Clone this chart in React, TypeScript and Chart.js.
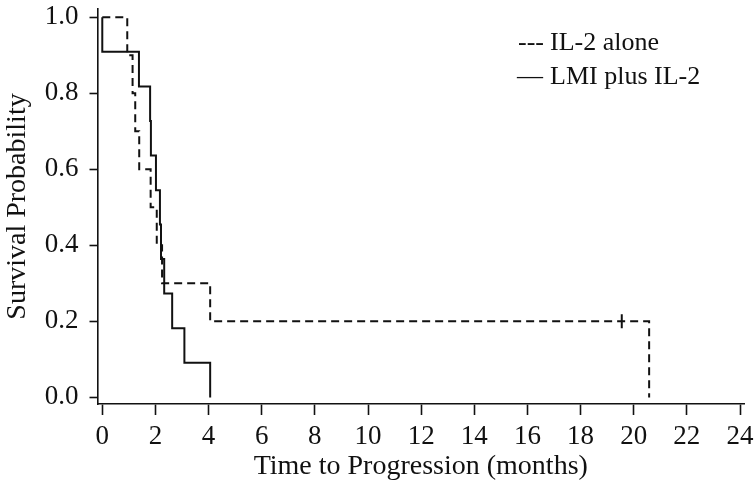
import React, { useEffect, useRef } from "react";
import { Chart, registerables } from "chart.js";

Chart.register(...registerables);

// Kaplan–Meier step points (time in months, survival probability after the event)
const il2Times = [0, 0.94, 1.14, 1.24, 1.39, 1.82, 2.05, 2.25, 4.06, 20.58];
const il2Surv = [1.0, 0.9, 0.8, 0.7, 0.6, 0.5, 0.4, 0.3, 0.2, 0.0];
const lmiTimes = [0, 0, 1.38, 1.8, 1.83, 2.02, 2.17, 2.21, 2.33, 2.63, 3.09, 4.06];
const lmiSurv = [1.0, 0.909, 0.818, 0.727, 0.636, 0.545, 0.455, 0.364, 0.273, 0.182, 0.091, 0.0];
const censorTimes = [19.55];
const censorSurv = [0.2];

const seriesNames = ["IL-2 alone", "LMI plus IL-2"];
const legendMarks = ["---", "\u2014"];
const xTickValues = [0, 2, 4, 6, 8, 10, 12, 14, 16, 18, 20, 22, 24];
const xTickLabels = ["0", "2", "4", "6", "8", "10", "12", "14", "16", "18", "20", "22", "24"];
const yTickValues = [0, 0.2, 0.4, 0.6, 0.8, 1.0];
const yTickLabels = ["0.0", "0.2", "0.4", "0.6", "0.8", "1.0"];
const xTitle = "Time to Progression (months)";
const yTitle = "Survival Probability";

const FONT = '"Liberation Serif", "Times New Roman", serif';

export default function App() {
  const ref = useRef<HTMLCanvasElement | null>(null);

  useEffect(() => {
    document.body.style.margin = "0";
    const canvas = ref.current;
    if (!canvas) return;

    const legendPlugin = {
      id: "textLegend",
      afterDraw(chart: any) {
        const ctx = chart.ctx;
        ctx.save();
        ctx.fillStyle = "#111";
        ctx.font = `26px ${FONT}`;
        ctx.textBaseline = "alphabetic";
        ctx.textAlign = "left";
        const rows = [50, 84];
        const markX = [518, 517];
        for (let i = 0; i < seriesNames.length; i++) {
          ctx.fillText(legendMarks[i], markX[i], rows[i]);
          ctx.fillText(seriesNames[i], 550, rows[i]);
        }
        ctx.restore();
      },
    };

    const chart = new Chart(canvas, {
      type: "line",
      data: {
        datasets: [
          {
            label: seriesNames[0],
            data: il2Times.map((t, i) => ({ x: t, y: il2Surv[i] })),
            stepped: "before",
            borderColor: "#111",
            borderWidth: 2,
            borderDash: [8, 5],
            pointRadius: 0,
            fill: false,
          },
          {
            label: seriesNames[1],
            data: lmiTimes.map((t, i) => ({ x: t, y: lmiSurv[i] })),
            stepped: "before",
            borderColor: "#111",
            borderWidth: 2,
            pointRadius: 0,
            fill: false,
          },
          {
            type: "scatter",
            label: "censored",
            data: censorTimes.map((t, i) => ({ x: t, y: censorSurv[i] })),
            showLine: false,
            pointStyle: "line",
            rotation: 90,
            pointRadius: 7,
            borderColor: "#111",
            borderWidth: 2,
          } as any,
        ],
      },
      options: {
        animation: false,
        responsive: false,
        devicePixelRatio: 1,
        layout: { padding: { left: 0, right: 11, top: 5, bottom: 0 } },
        plugins: {
          legend: { display: false },
          tooltip: { enabled: false },
        },
        scales: {
          x: {
            type: "linear",
            min: -0.18,
            max: 24.15,
            afterBuildTicks: (scale: any) => {
              scale.ticks = xTickValues.map((v) => ({ value: v }));
            },
            afterFit: (scale: any) => {
              scale.height = 87;
              scale.paddingLeft = 0;
              scale.paddingRight = 0;
            },
            border: { display: true, color: "#111", width: 1.6 },
            grid: {
              display: true,
              drawOnChartArea: false,
              drawTicks: true,
              tickLength: 11,
              tickColor: "#111",
              tickWidth: 1.6,
              color: "#111",
            },
            ticks: {
              autoSkip: false,
              maxRotation: 0,
              padding: 6,
              color: "#111",
              font: { family: FONT, size: 27 },
              callback: (_v: any, i: number) => xTickLabels[i],
            },
            title: {
              display: true,
              text: xTitle,
              color: "#111",
              font: { family: FONT, size: 28 },
              padding: { top: 0, bottom: 8 },
            },
          },
          y: {
            type: "linear",
            min: -0.0174,
            max: 1.0216,
            afterBuildTicks: (scale: any) => {
              scale.ticks = yTickValues.map((v) => ({ value: v }));
            },
            afterFit: (scale: any) => {
              scale.width = 97.5;
              scale.paddingTop = 0;
              scale.paddingBottom = 0;
            },
            border: { display: true, color: "#111", width: 1.6 },
            grid: {
              display: true,
              drawOnChartArea: false,
              drawTicks: true,
              tickLength: 8,
              tickColor: "#111",
              tickWidth: 1.6,
              color: "#111",
            },
            ticks: {
              autoSkip: false,
              padding: 11,
              color: "#111",
              font: { family: FONT, size: 27 },
              callback: (_v: any, i: number) => yTickLabels[i],
            },
            title: {
              display: true,
              text: yTitle,
              color: "#111",
              font: { family: FONT, size: 28 },
              padding: { top: 1, bottom: 0 },
            },
          },
        },
      },
      plugins: [legendPlugin],
    });

    return () => chart.destroy();
  }, []);

  return (
    <div style={{ width: 755, height: 491, background: "#fff" }}>
      <canvas ref={ref} width={755} height={491} style={{ width: 755, height: 491, display: "block" }} />
    </div>
  );
}
